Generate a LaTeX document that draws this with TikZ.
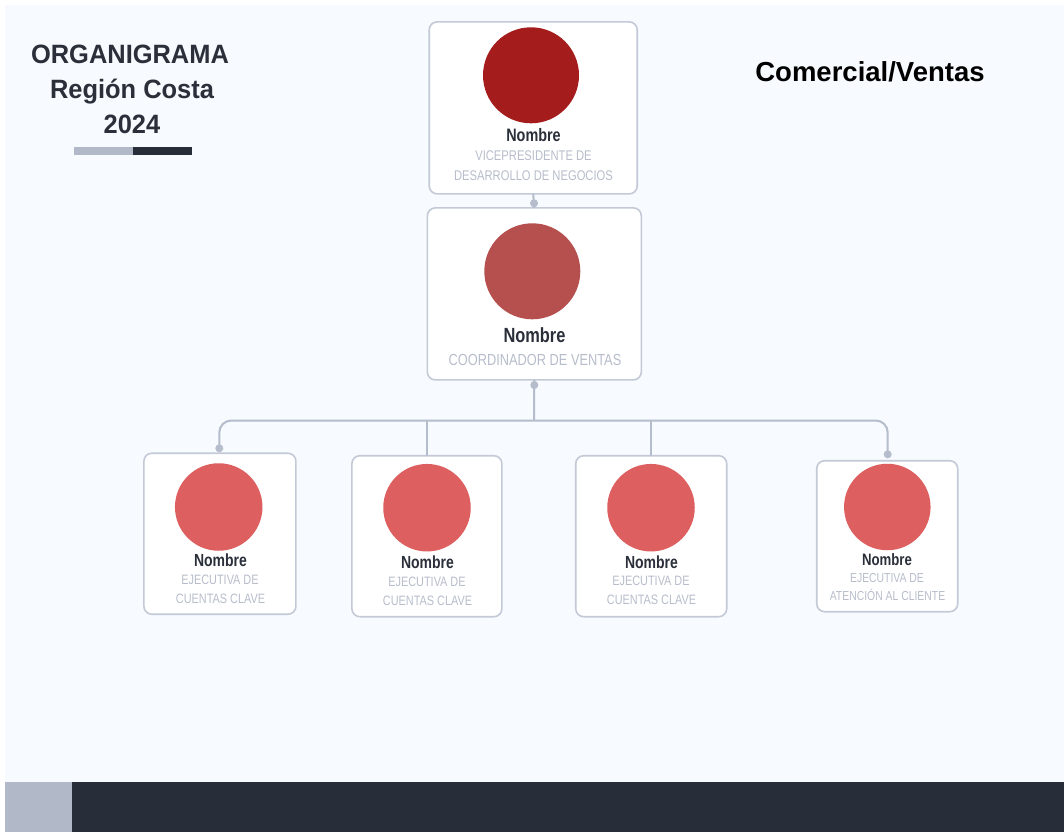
\documentclass[tikz,border=0pt]{standalone}
\usepackage{fontspec}
\newfontfamily\condfont{Liberation Sans}[FakeStretch=0.8]
\newfontfamily\titlefont{Liberation Sans}[FakeStretch=0.96]
\newfontfamily\headfont{Liberation Sans}
\definecolor{pagebg}{HTML}{F7FAFE}
\definecolor{ink}{HTML}{2A2F3A}
\definecolor{rolegray}{HTML}{B7BDCB}
\definecolor{cardline}{HTML}{C3C9D6}
\definecolor{linkline}{HTML}{B5BDCC}
\definecolor{barlight}{HTML}{B1B9C9}
\definecolor{bardark}{HTML}{282E39}
\definecolor{redtop}{HTML}{A51C1C}
\definecolor{redmid}{HTML}{B5504E}
\definecolor{redlow}{HTML}{DD5F5F}
\tikzset{
  card/.style={draw=cardline, line width=1.6pt, fill=white, rounded corners=8pt,
    inner sep=0pt, outer sep=0pt},
  avatar/.style={circle, inner sep=0pt, outer sep=0pt, minimum size=#1},
  person/.style={anchor=base, inner sep=0pt, text=ink,
    font=\condfont\bfseries\fontsize{#1}{#1}\selectfont},
  role/.style={anchor=base, inner sep=0pt, text=rolegray,
    font=\condfont\fontsize{#1}{#1}\selectfont},
  link/.style={draw=linkline, line width=2pt},
  joint/.style={circle, fill=linkline, inner sep=0pt, minimum size=8pt},
  heading/.style={anchor=base, inner sep=0pt, text=ink,
    font=\titlefont\bfseries\fontsize{26.5}{26.5}\selectfont},
}
\begin{document}
\begin{tikzpicture}[x=1pt, y=-1pt]
\useasboundingbox (0,0) rectangle (1064,832);
% page background and footer band
\fill[white] (0,0) rectangle (1064,832);
\fill[pagebg] (5,5) rectangle (1064,782);
\fill[barlight] (5,782) rectangle (72,832);
\fill[bardark] (72,782) rectangle (1064,832);

% title block
\node[heading] (t1) at (130,64) {ORGANIGRAMA};
\node[heading] (t2) at (132,99) {Región Costa};
\node[heading] (t3) at (132,133) {2024};
\fill[barlight] (74,147) rectangle (133,155);
\fill[bardark] (133,147) rectangle (192,155);
\node[anchor=base, inner sep=0pt, text=black, font=\headfont\bfseries\fontsize{27.5}{27.5}\selectfont]
  (dept) at (870,82) {Comercial/Ventas};

% cards
\node[card, minimum width=208pt, minimum height=172pt] (vp) at (533.2,107.9) {};
\node[card, minimum width=214pt, minimum height=172pt] (co) at (534.3,293.9) {};
\node[card, minimum width=152pt, minimum height=161pt] (b1) at (219.9,533.7) {};
\node[card, minimum width=150pt, minimum height=161pt] (b2) at (426.9,536.2) {};
\node[card, minimum width=151pt, minimum height=161pt] (b3) at (651.2,536.2) {};
\node[card, minimum width=141pt, minimum height=151pt] (b4) at (887.2,536.2) {};

% avatars
\node[avatar=96pt, fill=redtop] (vpa) at (531,75.3) {};
\node[avatar=96pt, fill=redmid] (coa) at (532.3,271.3) {};
\node[avatar=87.5pt, fill=redlow] (b1a) at (218.7,507) {};
\node[avatar=87.5pt, fill=redlow] (b2a) at (427,507.7) {};
\node[avatar=87.5pt, fill=redlow] (b3a) at (651,507.7) {};
\node[avatar=86.5pt, fill=redlow] (b4a) at (887.3,507) {};

% names and roles
\node[person=18] (vpn) at (533.5,141) {Nombre};
\node[role=14] (vpr1) at (533.5,160.7) {VICEPRESIDENTE DE};
\node[role=14] (vpr2) at (533.5,180.7) {DESARROLLO DE NEGOCIOS};

\node[person=20.5] (con) at (534.5,342) {Nombre};
\node[role=16] (cor1) at (535,365.7) {COORDINADOR DE VENTAS};

\node[person=17.5] (b1n) at (220.5,566.7) {Nombre};
\node[role=13.6] (b1r1) at (220,584) {EJECUTIVA DE};
\node[role=13.6] (b1r2) at (220.5,603) {CUENTAS CLAVE};

\node[person=17.5] (b2n) at (427.5,568) {Nombre};
\node[role=13.6] (b2r1) at (427,586) {EJECUTIVA DE};
\node[role=13.6] (b2r2) at (427.5,605) {CUENTAS CLAVE};

\node[person=17.5] (b3n) at (651.5,568) {Nombre};
\node[role=13.6] (b3r1) at (651,585.7) {EJECUTIVA DE};
\node[role=13.6] (b3r2) at (651.5,604) {CUENTAS CLAVE};

\node[person=16.5] (b4n) at (887,565) {Nombre};
\node[role=13] (b4r1) at (887,582) {EJECUTIVA DE};
\node[role=13] (b4r2) at (887.5,600) {ATENCIÓN AL CLIENTE};

% connectors
\coordinate (bus) at (534,420.5);
\coordinate (jl) at (219.3,448.3);
\coordinate (jr) at (887.7,454.3);
\draw[link] (vp.south) -- (co.north);
\node[joint] (j0) at (534,203.3) {};
\draw[link] (co.south) -- (bus);
\node[joint] (j1) at (534.3,385) {};
\draw[link, rounded corners=12pt] (jl) |- (bus) -| (jr);
\draw[link] (b2.north) -- (b2.north |- bus);
\draw[link] (b3.north) -- (b3.north |- bus);
\node[joint] at (jl) {};
\node[joint] at (jr) {};
\end{tikzpicture}
\end{document}
